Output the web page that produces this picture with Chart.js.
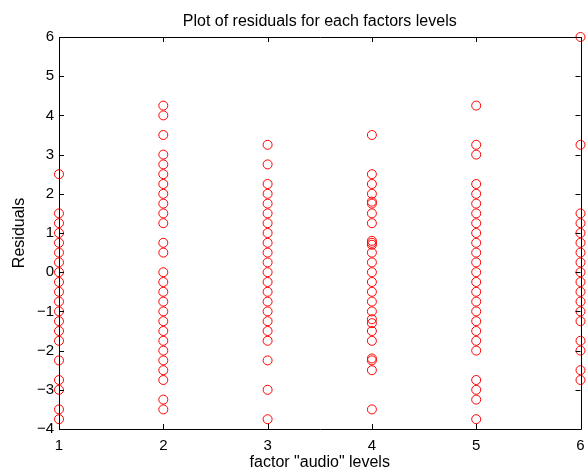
<!DOCTYPE html>
<html>
<head>
<meta charset="utf-8">
<script src="https://cdn.jsdelivr.net/npm/chart.js@4/dist/chart.umd.min.js"></script>
<style>
  html, body { margin: 0; padding: 0; background: #fff; }
  #wrap { width: 586px; height: 473px; position: relative; }
</style>
</head>
<body>
<div id="wrap"><canvas id="resChart"></canvas></div>
<script>
// residuals, one array per level of factor "audio"
const levels = [1, 2, 3, 4, 5, 6];
const level1 = [2.5, 1.5, 1.25, 1, 0.75, 0.5, 0.25, 0, -0.25, -0.5, -0.75, -1, -1.25, -1.5, -1.75, -2.25, -2.75, -3, -3.5, -3.75];
const level2 = [4.25, 4, 3.5, 3, 2.75, 2.5, 2.25, 2, 1.75, 1.5, 1.25, 0.75, 0.5, 0, -0.25, -0.5, -0.75, -1, -1.25, -1.5, -1.75, -2, -2.25, -2.5, -2.75, -3.25, -3.5];
const level3 = [3.25, 2.75, 2.25, 2, 1.75, 1.5, 1.25, 1, 0.75, 0.5, 0.25, 0, -0.25, -0.5, -0.75, -1, -1.25, -1.5, -1.75, -2.25, -3, -3.75];
const level4 = [3.5, 2.5, 2.25, 2, 1.8, 1.75, 1.5, 1.25, 0.8, 0.75, 0.7, 0.5, 0.25, 0, -0.25, -0.5, -0.75, -1, -1.2, -1.3, -1.5, -1.75, -2.2, -2.25, -2.5, -3.5];
const level5 = [4.25, 3.25, 3, 2.25, 2, 1.75, 1.5, 1.25, 1, 0.75, 0.5, 0.25, 0, -0.25, -0.5, -0.75, -1, -1.25, -1.5, -1.75, -2, -2.75, -3, -3.25, -3.75];
const level6 = [6, 3.25, 1.5, 1.25, 1, 0.75, 0.5, 0.25, 0, -0.25, -0.5, -0.75, -1, -1.25, -1.75, -2, -2.5, -2.75];
const residuals = [level1, level2, level3, level4, level5, level6];

const xTicks = [1, 2, 3, 4, 5, 6];
const yTicks = [-4, -3, -2, -1, 0, 1, 2, 3, 4, 5, 6];

const chartTitle = 'Plot of residuals for each factors levels';
const xLabel = 'factor "audio" levels';
const yLabel = 'Residuals';

const points = [];
residuals.forEach((vals, i) => {
    vals.forEach(v => points.push({ x: levels[i], y: v }));
});

const fontFamily = 'Arial, "Liberation Sans", Helvetica, sans-serif';

// matlab style box with inward ticks, title over the axes
const boxPlugin = {
    id: 'matlabBox',
    afterDraw(chart) {
        const ctx = chart.ctx;
        const a = chart.chartArea;
        const xs = chart.scales.x;
        const ys = chart.scales.y;
        ctx.save();
        ctx.strokeStyle = '#000';
        ctx.lineWidth = 1;
        ctx.beginPath();
        ctx.rect(Math.round(a.left) + 0.5, Math.round(a.top) + 0.5,
            Math.round(a.right - a.left), Math.round(a.bottom - a.top));
        const len = 5;
        xTicks.forEach(t => {
            const px = Math.round(xs.getPixelForValue(t)) + 0.5;
            ctx.moveTo(px, a.bottom); ctx.lineTo(px, a.bottom - len);
            ctx.moveTo(px, a.top); ctx.lineTo(px, a.top + len);
        });
        yTicks.forEach(t => {
            const py = Math.round(ys.getPixelForValue(t)) + 0.5;
            ctx.moveTo(a.left, py); ctx.lineTo(a.left + len, py);
            ctx.moveTo(a.right, py); ctx.lineTo(a.right - len, py);
        });
        ctx.stroke();

        ctx.fillStyle = '#000';
        ctx.font = '16px ' + fontFamily;
        ctx.textAlign = 'center';
        ctx.textBaseline = 'middle';
        ctx.fillText(chartTitle, (a.left + a.right) / 2, 21.5);
        ctx.restore();
    }
};

const ctx = document.getElementById('resChart').getContext('2d');
new Chart(ctx, {
    type: 'scatter',
    data: {
        datasets: [{
            data: points,
            pointStyle: 'circle',
            pointRadius: 4.5,
            pointHoverRadius: 4.5,
            pointBorderWidth: 1,
            borderColor: '#ff0000',
            backgroundColor: 'rgba(0,0,0,0)',
            clip: false
        }]
    },
    options: {
        responsive: true,
        maintainAspectRatio: false,
        animation: false,
        layout: { padding: { top: 37, right: 3, left: 0, bottom: 0 } },
        plugins: {
            legend: { display: false },
            tooltip: { enabled: false },
            title: { display: false }
        },
        scales: {
            x: {
                type: 'linear',
                min: 1,
                max: 6,
                afterBuildTicks: s => { s.ticks = xTicks.map(v => ({ value: v })); },
                afterFit: s => { s.height = 44; s.paddingLeft = 0; s.paddingRight = 0; },
                grid: { display: false, drawTicks: false },
                border: { display: false },
                ticks: { color: '#000', padding: 8, maxRotation: 0, font: { family: fontFamily, size: 15 } },
                title: {
                    display: true, text: xLabel, color: '#000',
                    padding: { top: 0, bottom: 1 },
                    font: { family: fontFamily, size: 16 }
                }
            },
            y: {
                type: 'linear',
                min: -4,
                max: 6,
                afterBuildTicks: s => { s.ticks = yTicks.map(v => ({ value: v })); },
                afterFit: s => { s.width = 59; s.paddingTop = 0; s.paddingBottom = 0; },
                grid: { display: false, drawTicks: false },
                border: { display: false },
                ticks: {
                    color: '#000', padding: 5,
                    font: { family: fontFamily, size: 15 },
                    callback: v => String(v).replace('-', '\u2212')
                },
                title: {
                    display: true, text: yLabel, color: '#000',
                    padding: { top: 10, bottom: 0 },
                    font: { family: fontFamily, size: 16 }
                }
            }
        }
    },
    plugins: [boxPlugin]
});
</script>
</body>
</html>
